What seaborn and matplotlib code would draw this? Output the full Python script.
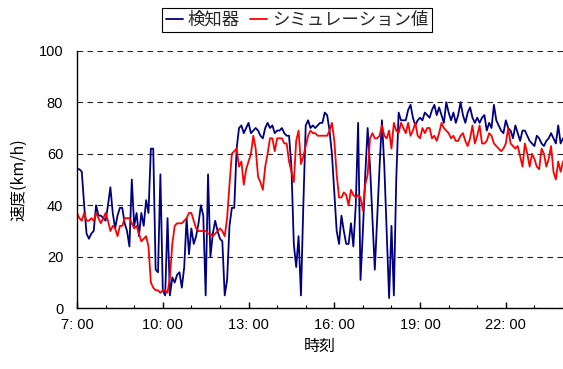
import numpy as np
import pandas as pd
import matplotlib
matplotlib.use("Agg")
import matplotlib.pyplot as plt
from matplotlib.lines import Line2D
from matplotlib.ticker import FixedLocator, MultipleLocator
import seaborn as sns

# 5-minute speed samples from 7:00 to 24:00
start_hour = 7
step_minutes = 5

detector_kmh = [
    54, 54, 53, 40, 29, 27, 29, 30, 40, 36,
    36, 35, 34, 40, 47, 37, 31, 36, 39, 39,
    33, 30, 24, 50, 32, 37, 28, 37, 32, 42,
    37, 62, 62, 15, 14, 52, 7, 5, 35, 5,
    12, 10, 13, 14, 8, 16, 35, 21, 31, 25,
    28, 33, 40, 36, 5, 52, 20, 29, 34, 30,
    27, 26, 5, 11, 32, 39, 39, 62, 70, 71,
    68, 70, 72, 68, 69, 70, 69, 67, 66, 70,
    72, 70, 71, 68, 69, 69, 70, 68, 67, 67,
    55, 25, 16, 28, 5, 40, 71, 73, 70, 71,
    70, 71, 72, 72, 76, 75, 69, 60, 45, 30,
    25, 36, 30, 25, 25, 33, 24, 40, 72, 11,
    30, 52, 70, 55, 35, 15, 35, 55, 73, 55,
    30, 4, 32, 5, 50, 76, 73, 73, 73, 77,
    79, 74, 71, 73, 74, 73, 76, 75, 74, 77,
    79, 75, 78, 75, 72, 80, 76, 73, 76, 72,
    75, 80, 75, 72, 76, 78, 74, 72, 74, 72,
    74, 75, 69, 72, 70, 79, 73, 71, 69, 68,
    73, 70, 69, 66, 71, 68, 65, 69, 69, 67,
    65, 64, 63, 67, 66, 64, 63, 65, 66, 68,
    66, 64, 71, 64, 66,
]

simulation_kmh = [
    37, 35, 34, 37, 34, 34, 35, 34, 37, 35,
    33, 35, 37, 34, 30, 32, 31, 28, 32, 32,
    35, 35, 35, 33, 31, 32, 29, 26, 27, 28,
    24, 10, 8, 7, 7, 6, 7, 7, 6, 12,
    25, 32, 33, 33, 33, 34, 35, 37, 37, 34,
    31, 30, 30, 30, 30, 29, 29, 28, 29, 30,
    31, 30, 28, 35, 48, 60, 61, 62, 55, 57,
    48, 54, 57, 60, 67, 62, 51, 49, 46, 55,
    60, 66, 66, 61, 66, 66, 66, 64, 64, 57,
    53, 49, 65, 69, 56, 59, 63, 67, 69, 68,
    68, 67, 67, 67, 67, 67, 69, 72, 65, 52,
    43, 43, 45, 44, 40, 46, 44, 43, 44, 43,
    38, 48, 52, 66, 68, 66, 66, 67, 71, 67,
    66, 69, 62, 72, 69, 68, 72, 70, 68, 72,
    67, 69, 72, 67, 66, 70, 68, 70, 70, 66,
    67, 65, 68, 72, 70, 69, 68, 66, 67, 65,
    65, 67, 68, 65, 63, 66, 71, 64, 67, 71,
    64, 64, 65, 68, 67, 64, 63, 62, 61, 62,
    64, 70, 64, 63, 62, 63, 59, 55, 64, 60,
    55, 60, 58, 55, 54, 62, 60, 55, 58, 63,
    53, 50, 57, 53, 57,
]

series_names = ["検知器", "シミュレーション値"]
series_colors = ["#000080", "#FF0000"]
hour_ticks = [7, 10, 13, 16, 19, 22]
hour_tick_labels = ["7: 00", "10: 00", "13: 00", "16: 00", "19: 00", "22: 00"]
speed_ticks = [0, 20, 40, 60, 80, 100]

n = len(detector_kmh)
hours = start_hour + np.arange(n) * step_minutes / 60.0
df = pd.DataFrame({
    "hour": np.concatenate([hours, hours]),
    "speed": np.concatenate([detector_kmh, simulation_kmh]),
    "series": [series_names[0]] * n + [series_names[1]] * n,
})

sns.set_theme(style="white")
plt.rcParams["font.family"] = ["Liberation Sans", "Noto Sans CJK JP"]
cjk = ["Noto Sans CJK JP", "Liberation Sans"]

fig = plt.figure(figsize=(5.63, 3.69), dpi=100)
ax = fig.add_axes([0.1368, 0.1645, 0.8632, 0.698])

sns.lineplot(data=df, x="hour", y="speed", hue="series",
             hue_order=series_names, palette=series_colors,
             linewidth=1.3, estimator=None, legend=False, ax=ax)

ax.set_xlim(7, 24)
ax.set_ylim(0, 100)

ax.xaxis.set_major_locator(FixedLocator(hour_ticks))
ax.set_xticklabels(hour_tick_labels)
ax.xaxis.set_minor_locator(MultipleLocator(1))
ax.set_yticks(speed_ticks)

ax.tick_params(axis="x", which="major", direction="in", length=4,
               width=1, color="black", labelsize=10.5, pad=7,
               bottom=True, labelcolor="black")
ax.tick_params(axis="x", which="minor", direction="in", length=2.5,
               width=0.8, color="black", bottom=True)
ax.tick_params(axis="y", length=0, labelsize=10.5, pad=10,
               labelcolor="black")

ax.yaxis.grid(True, linestyle=(0, (5, 4)), color="#222222", linewidth=0.8)
ax.xaxis.grid(False)
ax.set_axisbelow(True)

for side in ["top", "right"]:
    ax.spines[side].set_visible(False)
for side in ["left", "bottom"]:
    ax.spines[side].set_color("black")
    ax.spines[side].set_linewidth(1.0)

ax.set_xlabel("時刻", fontsize=11.5, family=cjk, color="black", labelpad=4)
ax.set_ylabel("速度(km/h)", fontsize=11.5, family=cjk, color="black", labelpad=8)

handles = [Line2D([0], [0], color=c, lw=1.3) for c in series_colors]
leg = fig.legend(handles, series_names, loc="center",
                 bbox_to_anchor=(297 / 563, 1 - 20 / 369), ncol=2,
                 frameon=True, fancybox=False, edgecolor="black",
                 framealpha=1, prop={"family": cjk, "size": 12.5},
                 handlelength=1.0, handletextpad=0.25, columnspacing=0.6,
                 borderpad=0.2, borderaxespad=0)
leg.get_frame().set_linewidth(0.8)

fig.savefig("out.png", dpi=100, facecolor="white")
